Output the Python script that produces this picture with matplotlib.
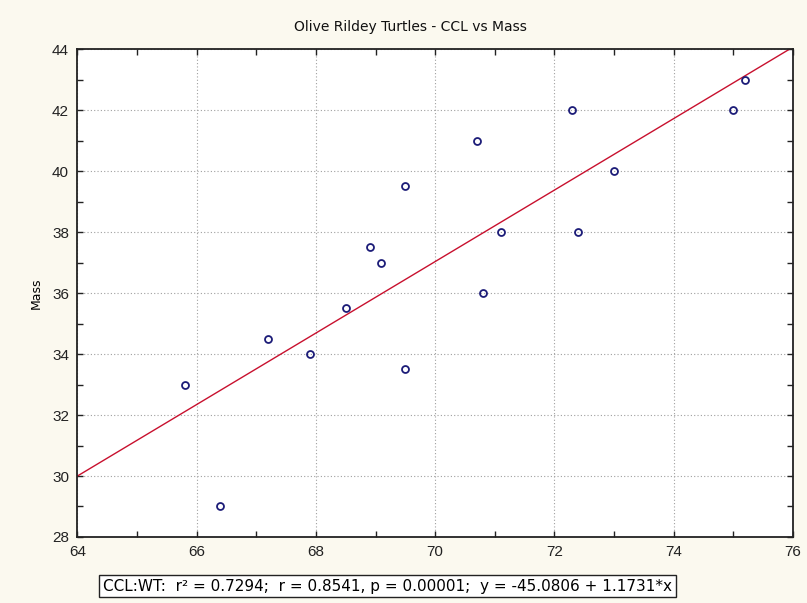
import numpy as np
import matplotlib
matplotlib.use("Agg")
import matplotlib.pyplot as plt
from matplotlib.ticker import MultipleLocator

plt.rcParams['font.family'] = ['Liberation Sans', 'DejaVu Sans']

# CCL (cm) and mass (kg) for each turtle
ccl = [65.8, 66.4, 67.2, 67.9, 68.5, 68.9, 69.1, 69.5, 69.5,
       70.7, 70.8, 71.1, 72.3, 72.4, 73.0, 75.0, 75.2]
mass = [33.0, 29.0, 34.5, 34.0, 35.5, 37.5, 37.0, 39.5, 33.5,
        41.0, 36.0, 38.0, 42.0, 38.0, 40.0, 42.0, 43.0]

# fitted line from the stats box
intercept = -45.0806
slope = 1.1731
stats_text = "CCL:WT:  r\u00b2 = 0.7294;  r = 0.8541, p = 0.00001;  y = -45.0806 + 1.1731*x"

fig = plt.figure(figsize=(8.07, 6.03), dpi=100, facecolor='#fbf9ef')
ax = fig.add_axes([0.0958, 0.1095, 0.8869, 0.8087])
ax.set_facecolor('white')

xs = np.array([64, 76])
ax.plot(xs, intercept + slope * xs, color='#c8102e', lw=1.0, zorder=2)
ax.plot(ccl, mass, 'o', ms=5, mfc='none', mec='#1c1c78', mew=1.3, zorder=3)

ax.set_xlim(64, 76)
ax.set_ylim(28, 44)
ax.xaxis.set_major_locator(MultipleLocator(2))
ax.xaxis.set_minor_locator(MultipleLocator(1))
ax.yaxis.set_major_locator(MultipleLocator(2))
ax.yaxis.set_minor_locator(MultipleLocator(1))
ax.tick_params(which='both', direction='in', top=True, right=True,
               length=4, width=1, labelsize=11, colors='#222222')
ax.tick_params(axis='x', pad=6)
ax.tick_params(axis='y', pad=6)
ax.grid(True, which='major', ls=(0, (1, 2)), color='#a0a0a0', lw=0.8)
for s in ax.spines.values():
    s.set_linewidth(1.3)
    s.set_color('#222222')

fig.text(0.509, 0.955, "Olive Rildey Turtles - CCL vs Mass", fontsize=10,
         family='DejaVu Sans', ha='center', va='center', color='#111111')
ax.set_ylabel("Mass", fontsize=9, family='DejaVu Sans', labelpad=7)

fig.text(0.128, 0.028, stats_text, fontsize=11, family='DejaVu Sans',
         ha='left', va='center',
         bbox=dict(boxstyle='square,pad=0.25', fc='white', ec='#222222', lw=1))

fig.savefig('out.png', dpi=100, facecolor=fig.get_facecolor())
